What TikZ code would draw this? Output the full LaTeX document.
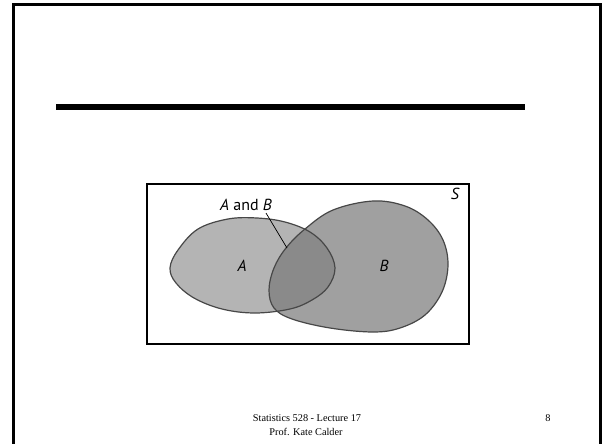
\documentclass[tikz,border=0pt]{standalone}
\usepackage{fontspec}
\setmainfont{Liberation Serif}
\newfontfamily\labfont{PT Sans}
\begin{document}
\begin{tikzpicture}[x=1pt,y=-1pt,
  outline/.style={draw=black!72,line width=1.2pt},
  lbl/.style={font=\labfont\fontsize{16}{18}\selectfont,inner sep=0pt},
  foot/.style={font=\fontsize{10.3}{12}\selectfont,inner sep=0pt}]
\useasboundingbox (0,0) rectangle (602,444);
\fill[white] (0,0) rectangle (602,444);
% slide frame
\draw[line width=3pt] (13.5,444) -- (13.5,5) -- (600,5) -- (600,444);
% title rule
\fill[black] (56,104) rectangle (525,109.5);
% Venn
\def\shapeA{plot[smooth cycle,tension=0.6] coordinates {(170,268) (178,250) (198,229) (228,219) (257,218) (285,222) (310,232) (327,248) (335,268) (328,287) (312,300) (290,309) (255,313) (222,309) (194,298) (176,283)}}
\def\shapeB{plot[smooth cycle,tension=0.6] coordinates {(373,201) (405,206) (428,220) (443,240) (448,265) (442,292) (425,315) (400,328) (373,332) (330,328) (292,319) (274,308) (269,290) (274,268) (286,248) (305,229) (333,210)}}
\fill[fill={rgb,255:red,180;green,180;blue,180}] \shapeA;
\fill[fill={rgb,255:red,160;green,160;blue,160}] \shapeB;
\begin{scope}
\clip \shapeB;
\fill[fill={rgb,255:red,138;green,138;blue,138}] \shapeA;
\end{scope}
\draw[outline] \shapeA;
\draw[outline] \shapeB;
\draw[line width=1.5pt] (147,184) rectangle (469,344);
\node[lbl] (S) at (455,194) {\itshape S};
\node[lbl] (lA) at (242,266) {\itshape A};
\node[lbl] (lB) at (384,266) {\itshape B};
\node[lbl] (AB) at (246,205) {\itshape A\/\upshape\ and \itshape B};
\coordinate (p1) at (266,213);
\coordinate (p2) at (287,248);
\draw[line width=0.7pt] (p1) -- (p2);
% footer
\node[foot] (f1) at (307,418) {Statistics 528 - Lecture 17};
\node[foot] (f2) at (306,432) {Prof. Kate Calder};
\node[foot] (pg) at (548,418) {8};
\end{tikzpicture}
\end{document}
